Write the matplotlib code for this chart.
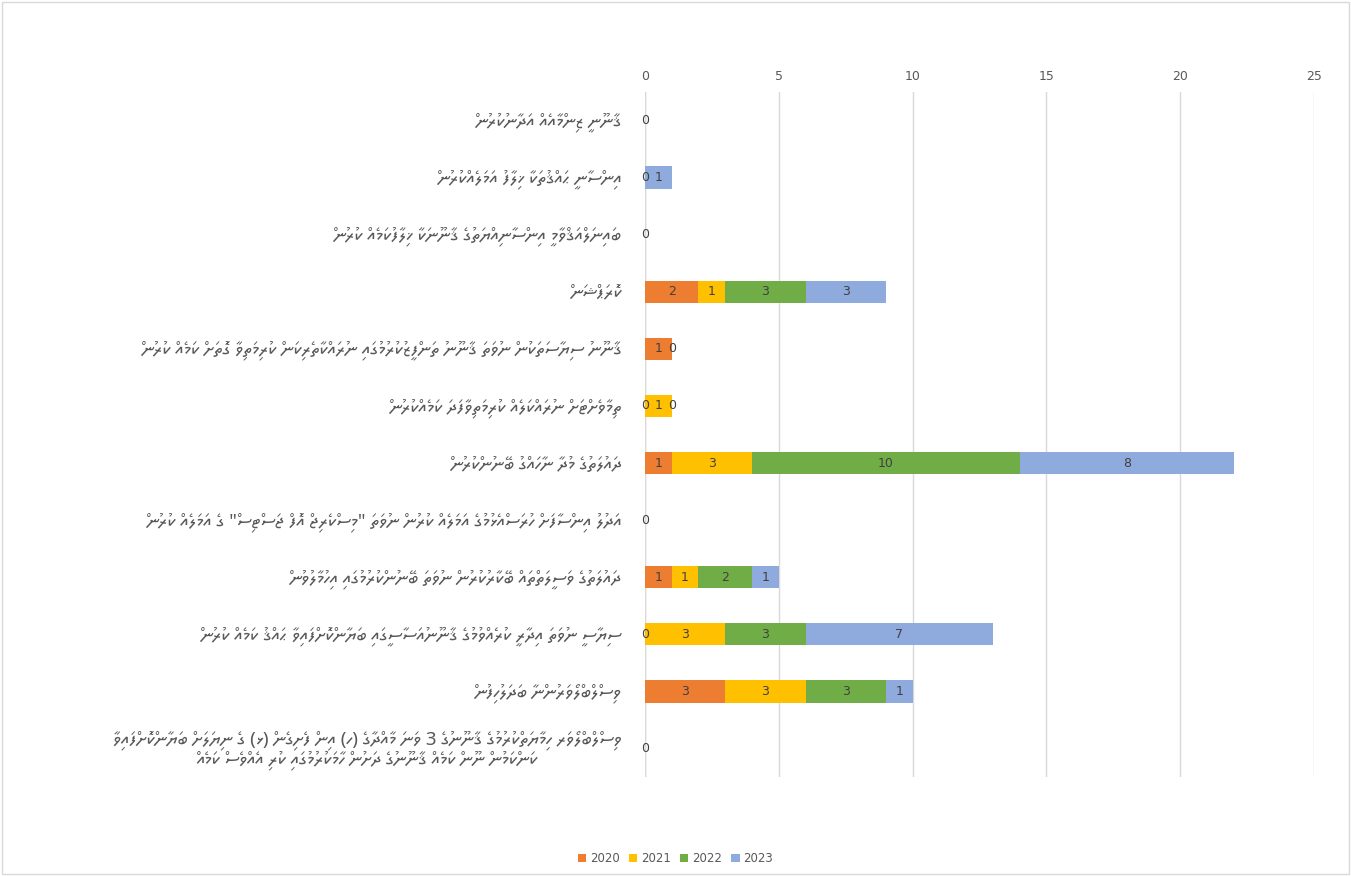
import numpy as np
import matplotlib

matplotlib.use("Agg")
import matplotlib.pyplot as plt
from matplotlib.patches import Rectangle

# categories, top to bottom (logical Thaana order)
CATEGORIES = [
    "ޤާނޫނީ ޒިންމާއެއް އަދާނުކުރުން",
    "އިންސާނީ ޙައްޤުތަކާ ޚިލާފު އަމަލެއްކުރުން",
    "ބައިނަލްއަޤްވާމީ އިންސާނިއްޔަތުގެ ޤާނޫނަކާ ޚިލާފުކަމެއް ކުރުން",
    "ކޮރަޕްޝަން",
    "ޤާނޫނު ސިޔާސަތަކުން ނުވަތަ ޤާނޫނު ތަންފީޒުކުރުމުގައި ނުރައްކާތެރިކަން ކުރިމަތިވާ ގޮތަށް ކަމެއް ކުރުން",
    "ތިމާވެށްޓަށް ނުރައްކަލެއް ކުރިމަތިވާފަދަ ކަމެއްކުރުން",
    "ދައުލަތުގެ މުދާ ނާހައްގު ބޭނުންކުރުން",
    'އަދުލު އިންސާފަށް ހުރަސްއެޅުމުގެ އަމަލެއް ކުރުން ނުވަތަ "މިސްކެރިޖް އޮފް ޖަސްޓިސް" ގެ އަމަލެއް ކުރުން',
    "ދައުލަތުގެ ވަސީލަތްތައް ބޭކާރުކުރުން ނުވަތަ ބޭނުންކުރުމުގައި އިހުމާލުވުން",
    "ސިޔާސީ ނުވަތަ އިދާރީ ކުރެއްވުމުގެ ޤާނޫނުއަސާސީގައި ބަޔާންކޮށްފައިވާ ޙައްޤު ކަމެއް ކުރުން",
    "ވިސްލްބްލޯވަރުންނާ ބަދަލުހިފުން",
    "ވިސްލްބްލޯވަރ ހިމާޔަތްކުރުމުގެ ޤާނޫނުގެ 3 ވަނަ މާއްދާގެ (ހ) އިން ފެށިގެން (ޅ) ގެ ނިޔަލަށް ބަޔާންކޮށްފައިވާ\n"
    "ކަންކަމުން ނޫން ކަމެއް ޤާނޫނުގެ ދަށުން ހާމަކުރުމުގައި ކުރި އެއްވެސް ކަމެއް",
]

YEARS = ["2020", "2021", "2022", "2023"]
nan = np.nan
V2020 = [0, 0, 0, 2, 1, 0, 1, 0, 1, 0, 3, 0]
V2021 = [nan, nan, nan, 1, 0, 1, 3, nan, 1, 3, 3, nan]
V2022 = [nan, nan, nan, 3, nan, 0, 10, nan, 2, 3, 3, nan]
V2023 = [nan, 1, nan, 3, nan, nan, 8, nan, 1, 7, 1, nan]
SERIES = [V2020, V2021, V2022, V2023]
COLORS = ["#ED7D31", "#FFC000", "#70AD47", "#8FAADC"]

LABEL_FONT = ["Noto Sans Thaana", "DejaVu Sans"]


def visual(s):
    # no bidi in matplotlib: reverse each line; Noto Thaana fili sit over the
    # glyph to their right, so marks go before their base
    mirror = {"(": ")", ")": "("}
    return "\n".join("".join(mirror.get(c, c) for c in reversed(line))
                     for line in s.split("\n"))


fig = plt.figure(figsize=(13.51, 8.76), dpi=100)
ax = fig.add_axes([0.4774, 0.113, 0.4952, 0.782])

y = np.arange(len(CATEGORIES))
left = np.zeros(len(CATEGORIES))
for name, vals, col in zip(YEARS, SERIES, COLORS):
    v = np.array(vals, dtype=float)
    w = np.nan_to_num(v)
    ax.barh(y, w, left=left, height=0.39, color=col, label=name, zorder=3)
    for i in range(len(v)):
        if not np.isnan(v[i]):
            ax.text(left[i] + w[i] / 2, y[i], f"{int(v[i])}", ha="center",
                    va="center", fontsize=9, color="#404040", zorder=4)
    left += w

ax.set_xlim(0, 25)
ax.set_ylim(len(CATEGORIES) - 0.5, -0.5)
ax.set_xticks(range(0, 26, 5))
ax.xaxis.tick_top()
ax.tick_params(axis="x", length=0, pad=6.5, labelsize=9, labelcolor="#595959")
ax.grid(axis="x", color="#D9D9D9", lw=1, zorder=0)
ax.set_yticks(y)
ax.set_yticklabels([visual(c) for c in CATEGORIES], family=LABEL_FONT,
                   fontsize=13.5, color="#595959", multialignment="center",
                   linespacing=1.0)
ax.tick_params(axis="y", length=0, pad=17)
for s in ax.spines.values():
    s.set_visible(False)
ax.axvline(0, color="#D9D9D9", lw=1, zorder=2)

fig.legend(loc="lower center", bbox_to_anchor=(0.5, 0.0), ncol=4, frameon=False,
           fontsize=8.5, handlelength=0.7, handleheight=0.7, handletextpad=0.3,
           columnspacing=0.8, labelcolor="#595959")
fig.patches.append(Rectangle((0.0015, 0.002), 0.997, 0.996, transform=fig.transFigure,
                             fill=False, edgecolor="#D9D9D9", lw=1))

fig.savefig("out.png", dpi=100)
